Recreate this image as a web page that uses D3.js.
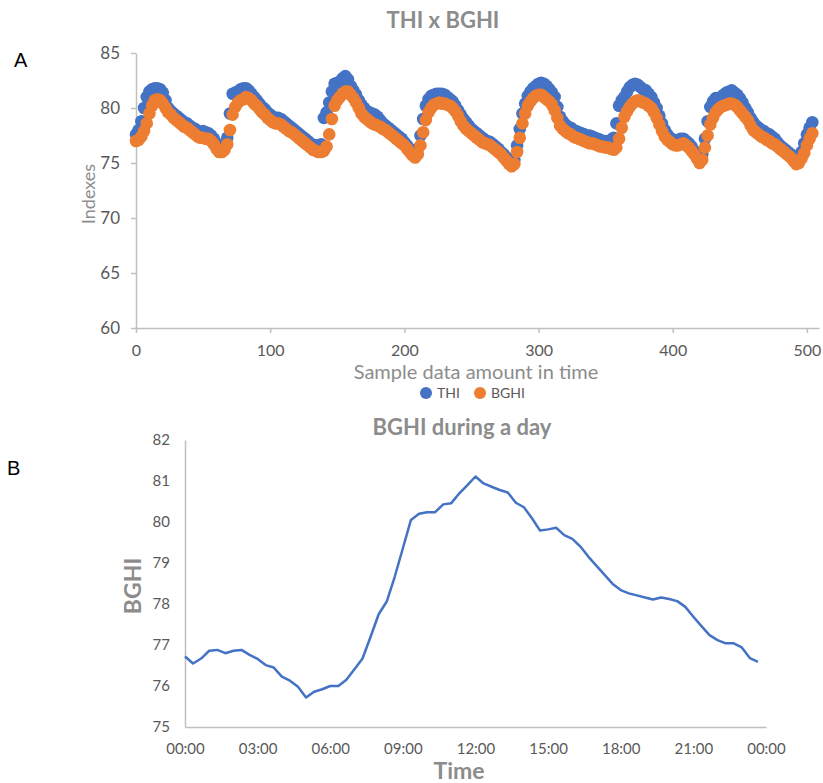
<!DOCTYPE html>
<html>
<head>
<meta charset="utf-8">
<script src="https://cdn.jsdelivr.net/npm/d3@7"></script>
<style>
  body { margin: 0; background: #fff; }
  svg { display: block; }
</style>
</head>
<body>
<script>
// --- data: chart A, one value read every 2nd sample ---
const sampleStep = 2;
const thi = [
  77.6, 78.0, 78.8, 80.0, 81.0, 81.5, 81.7, 81.8, 81.8, 81.7,
  81.4, 80.7, 80.0, 79.7, 79.5, 79.3, 79.1, 78.9, 78.7, 78.6,
  78.4, 78.2, 78.1, 77.9, 77.8, 77.9, 77.8, 77.7, 77.5, 77.2,
  76.8, 76.5, 76.3, 76.6, 77.3, 79.5, 81.3, 81.4, 81.5, 81.7,
  81.8, 81.8, 81.6, 81.3, 81.0, 80.7, 80.4, 80.1, 79.9, 79.6,
  79.4, 79.2, 79.1, 79.1, 79.0, 78.8, 78.6, 78.4, 78.2, 78.0,
  77.8, 77.6, 77.4, 77.2, 77.0, 76.8, 76.6, 76.6, 76.6, 76.7,
  79.1, 79.6, 80.5, 81.5, 82.2, 82.3, 82.4, 82.7, 82.9, 82.6,
  82.0, 81.6, 81.2, 80.7, 80.3, 80.0, 79.7, 79.6, 79.5, 79.4,
  79.2, 78.9, 78.6, 78.4, 78.2, 78.0, 77.8, 77.6, 77.4, 77.2,
  76.9, 76.6, 76.3, 76.0, 75.8, 76.3, 77.5, 79.0, 80.2, 80.8,
  81.1, 81.2, 81.3, 81.3, 81.3, 81.2, 81.0, 80.8, 80.6, 80.2,
  79.8, 79.4, 79.0, 78.7, 78.4, 78.1, 77.9, 77.7, 77.5, 77.3,
  77.1, 77.0, 76.9, 76.7, 76.5, 76.3, 76.0, 75.8, 75.5, 75.2,
  75.0, 75.3, 76.6, 78.1, 79.5, 80.4, 81.1, 81.5, 81.8, 82.0,
  82.2, 82.3, 82.2, 82.0, 81.7, 81.4, 81.0, 80.1, 79.2, 78.8,
  78.5, 78.3, 78.2, 78.0, 77.9, 77.8, 77.7, 77.6, 77.5, 77.5,
  77.4, 77.3, 77.2, 77.1, 77.0, 77.0, 76.9, 77.1, 77.3, 78.6,
  80.2, 80.7, 81.0, 81.5, 81.9, 82.1, 82.2, 82.1, 81.9, 81.7,
  81.6, 81.3, 81.0, 80.5, 80.0, 79.3, 78.6, 78.0, 77.6, 77.3,
  77.1, 77.0, 77.1, 77.2, 77.2, 77.0, 76.8, 76.5, 76.1, 75.7,
  75.3, 75.8, 77.2, 78.8, 80.1, 80.6, 80.9, 80.9, 81.0, 81.2,
  81.4, 81.5, 81.6, 81.4, 81.2, 80.9, 80.5, 80.0, 79.6, 79.1,
  78.7, 78.4, 78.2, 78.0, 77.9, 77.7, 77.6, 77.4, 77.2, 76.9,
  76.6, 76.4, 76.2, 76.0, 75.8, 75.5, 75.2, 75.5, 76.0, 76.8,
  77.6, 78.2, 78.7
];
const bghi = [
  77.0, 77.1, 77.4, 77.9, 78.6, 79.5, 80.2, 80.7, 80.8, 80.7,
  80.4, 80.0, 79.6, 79.4, 79.1, 78.9, 78.7, 78.5, 78.3, 78.2,
  78.0, 77.8, 77.6, 77.4, 77.3, 77.3, 77.2, 77.2, 77.0, 76.7,
  76.3, 76.0, 76.0, 76.2, 76.7, 78.0, 79.4, 80.1, 80.5, 80.7,
  80.8, 81.0, 80.9, 80.7, 80.4, 80.2, 79.9, 79.6, 79.4, 79.1,
  78.9, 78.7, 78.6, 78.6, 78.5, 78.3, 78.1, 77.9, 77.8, 77.6,
  77.4, 77.2, 77.0, 76.8, 76.6, 76.4, 76.2, 76.1, 76.0, 76.0,
  76.1, 76.5, 77.6, 79.0, 80.2, 80.7, 81.0, 81.3, 81.5, 81.5,
  81.2, 80.9, 80.5, 80.0, 79.5, 79.2, 79.0, 78.8, 78.6, 78.5,
  78.4, 78.3, 78.1, 78.0, 77.8, 77.6, 77.4, 77.2, 77.0, 76.8,
  76.6, 76.3, 76.0, 75.7, 75.5, 75.8, 76.6, 77.8, 78.9, 79.6,
  80.0, 80.3, 80.4, 80.5, 80.4, 80.4, 80.3, 80.2, 80.0, 79.7,
  79.3, 78.8, 78.4, 78.1, 77.9, 77.7, 77.5, 77.3, 77.1, 76.9,
  76.8, 76.7, 76.6, 76.4, 76.2, 76.0, 75.8, 75.5, 75.2, 74.9,
  74.7, 74.9, 76.0, 77.3, 78.6, 79.5, 80.2, 80.6, 80.9, 81.1,
  81.2, 81.2, 81.0, 80.8, 80.6, 80.3, 79.8, 79.1, 78.4, 78.1,
  77.9, 77.7, 77.6, 77.4, 77.3, 77.2, 77.1, 77.0, 76.9, 76.8,
  76.8, 76.7, 76.6, 76.5, 76.5, 76.4, 76.4, 76.3, 76.2, 76.4,
  77.2, 78.2, 79.2, 79.7, 80.1, 80.4, 80.6, 80.7, 80.6, 80.5,
  80.4, 80.2, 80.0, 79.6, 79.1, 78.5, 77.9, 77.4, 77.1, 76.9,
  76.7, 76.6, 76.6, 76.7, 76.8, 76.6, 76.4, 76.1, 75.8, 75.4,
  75.0, 75.3, 76.4, 77.5, 78.5, 79.1, 79.6, 79.9, 80.1, 80.2,
  80.3, 80.4, 80.4, 80.3, 80.1, 79.8, 79.5, 79.2, 78.9, 78.4,
  78.0, 77.8, 77.6, 77.4, 77.3, 77.1, 77.0, 76.8, 76.7, 76.5,
  76.3, 76.1, 75.9, 75.7, 75.5, 75.2, 74.9, 75.0, 75.4, 75.9,
  76.6, 77.2, 77.7
];
const sampleIdx = d3.range(0, bghi.length * sampleStep, sampleStep);
const topXTicks = [0, 100, 200, 300, 400, 500];
const topYTicks = [60, 65, 70, 75, 80, 85];

// --- data: chart B, every 20 minutes ---
const dayTimes = [
  "00:00","00:20","00:40","01:00","01:20","01:40","02:00","02:20","02:40",
  "03:00","03:20","03:40","04:00","04:20","04:40","05:00","05:20","05:40",
  "06:00","06:20","06:40","07:00","07:20","07:40","08:00","08:20","08:40",
  "09:00","09:20","09:40","10:00","10:20","10:40","11:00","11:20","11:40",
  "12:00","12:20","12:40","13:00","13:20","13:40","14:00","14:20","14:40",
  "15:00","15:20","15:40","16:00","16:20","16:40","17:00","17:20","17:40",
  "18:00","18:20","18:40","19:00","19:20","19:40","20:00","20:20","20:40",
  "21:00","21:20","21:40","22:00","22:20","22:40","23:00","23:20","23:40"
];
const dayBghi = [
  76.72, 76.55, 76.67, 76.86, 76.88, 76.80, 76.86, 76.88, 76.76,
  76.66, 76.51, 76.45, 76.23, 76.13, 75.98, 75.72, 75.86, 75.92,
  76.00, 76.00, 76.15, 76.41, 76.67, 77.20, 77.75, 78.06, 78.67,
  79.36, 80.05, 80.20, 80.24, 80.24, 80.43, 80.46, 80.70, 80.90,
  81.11, 80.94, 80.86, 80.78, 80.72, 80.47, 80.36, 80.09, 79.79,
  79.82, 79.86, 79.68, 79.59, 79.40, 79.15, 78.93, 78.71, 78.49,
  78.34, 78.26, 78.21, 78.16, 78.11, 78.16, 78.12, 78.07, 77.93,
  77.69, 77.46, 77.24, 77.12, 77.04, 77.04, 76.94, 76.68, 76.59
];
const dayYTicks = [75, 76, 77, 78, 79, 80, 81, 82];

const width = 823, height = 783;
const font = "Lato, 'Open Sans', sans-serif";
const labelGray = "#595959", titleGray = "#8c8c8c", axisGray = "#bfbfbf";
const blue = "#4472c4", orange = "#ed7d31";

const svg = d3.select("body").append("svg")
  .attr("width", width)
  .attr("height", height)
  .attr("font-family", font);

// style helper for axes
function styleAxis(g, size) {
  g.attr("font-family", font).attr("font-size", size);
  g.select(".domain").attr("stroke", axisGray).attr("stroke-width", 1.5);
  g.selectAll(".tick line").attr("stroke", axisGray).attr("stroke-width", 1.5);
  g.selectAll(".tick text").attr("fill", labelGray);
}

// panel letters
svg.append("text").attr("x", 14).attr("y", 67)
  .attr("font-family", "'Liberation Sans', Arial, sans-serif")
  .attr("font-size", 20).text("A");
svg.append("text").attr("x", 7).attr("y", 475)
  .attr("font-family", "'Liberation Sans', Arial, sans-serif")
  .attr("font-size", 20).text("B");

// ---------- chart A: THI x BGHI ----------
const xA = d3.scaleLinear().domain([0, 509]).range([136, 819]);
const yA = d3.scaleLinear().domain([60, 85]).range([328, 53]);

svg.append("text")
  .attr("x", 443).attr("y", 28)
  .attr("text-anchor", "middle")
  .attr("font-weight", "bold")
  .attr("font-size", 22)
  .attr("fill", titleGray)
  .text("THI x BGHI");

svg.append("g")
  .attr("transform", `translate(136,0)`)
  .call(d3.axisLeft(yA).tickValues(topYTicks).tickSize(5).tickSizeOuter(0).tickPadding(11))
  .call(g => styleAxis(g, 17));

svg.append("g")
  .attr("transform", `translate(0,328)`)
  .call(d3.axisBottom(xA).tickValues(topXTicks).tickSize(5).tickSizeOuter(0).tickPadding(12))
  .call(g => styleAxis(g, 16));

svg.append("text")
  .attr("transform", "translate(95,194) rotate(-90)")
  .attr("text-anchor", "middle")
  .attr("font-size", 18)
  .attr("fill", titleGray)
  .text("Indexes");

svg.append("text")
  .attr("x", 476).attr("y", 379)
  .attr("text-anchor", "middle")
  .attr("font-size", 20)
  .attr("fill", titleGray)
  .text("Sample data amount in time");

// THI underneath, BGHI drawn on top
svg.append("g").selectAll("circle")
  .data(thi)
  .join("circle")
  .attr("cx", (d, i) => xA(sampleIdx[i]))
  .attr("cy", d => yA(d))
  .attr("r", 6.3)
  .attr("fill", blue);

svg.append("g").selectAll("circle")
  .data(bghi)
  .join("circle")
  .attr("cx", (d, i) => xA(sampleIdx[i]))
  .attr("cy", d => yA(d))
  .attr("r", 6.3)
  .attr("fill", orange);

// legend
const legend = svg.append("g").attr("transform", "translate(426,393)");
[["THI", blue, 0], ["BGHI", orange, 54]].forEach(([name, color, dx]) => {
  legend.append("circle").attr("cx", dx).attr("cy", 0).attr("r", 6).attr("fill", color);
  legend.append("text")
    .attr("x", dx + 11).attr("y", 5)
    .attr("font-size", 14)
    .attr("fill", labelGray)
    .text(name);
});

// ---------- chart B: BGHI during a day ----------
const parseTime = d3.timeParse("%H:%M");
const dayStart = parseTime("00:00");
const xB = d3.scaleTime().domain([dayStart, d3.timeDay.offset(dayStart, 1)]).range([185, 766]);
const yB = d3.scaleLinear().domain([75, 82]).range([727, 440]);

svg.append("text")
  .attr("x", 462).attr("y", 435)
  .attr("text-anchor", "middle")
  .attr("font-weight", "bold")
  .attr("font-size", 22)
  .attr("fill", titleGray)
  .text("BGHI during a day");

svg.append("g")
  .attr("transform", "translate(185,0)")
  .call(d3.axisLeft(yB).tickValues(dayYTicks).tickFormat(d3.format("d")).tickSize(0).tickPadding(15))
  .call(g => styleAxis(g, 15));

svg.append("g")
  .attr("transform", "translate(0,727)")
  .call(d3.axisBottom(xB).ticks(d3.timeHour.every(3)).tickFormat(d3.timeFormat("%H:%M")).tickSize(0).tickPadding(16))
  .call(g => styleAxis(g, 15));

svg.append("text")
  .attr("transform", "translate(141,586) rotate(-90)")
  .attr("text-anchor", "middle")
  .attr("font-weight", "bold")
  .attr("font-size", 23)
  .attr("fill", titleGray)
  .text("BGHI");

svg.append("text")
  .attr("x", 459).attr("y", 779)
  .attr("text-anchor", "middle")
  .attr("font-weight", "bold")
  .attr("font-size", 23)
  .attr("fill", titleGray)
  .text("Time");

const line = d3.line()
  .x((d, i) => xB(parseTime(dayTimes[i])))
  .y(d => yB(d));

svg.append("path")
  .datum(dayBghi)
  .attr("d", line)
  .attr("fill", "none")
  .attr("stroke", blue)
  .attr("stroke-width", 2.5)
  .attr("stroke-linejoin", "round");
</script>
</body>
</html>
